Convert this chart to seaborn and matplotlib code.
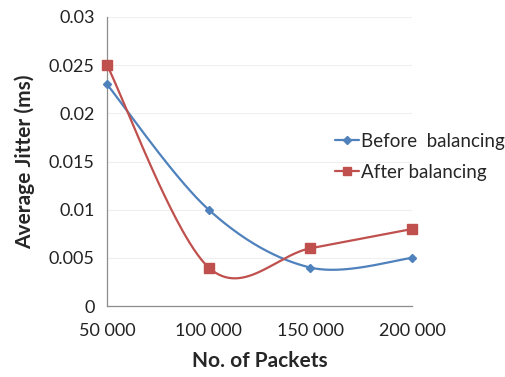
import numpy as np
import matplotlib
matplotlib.use("Agg")
import matplotlib.pyplot as plt
import seaborn as sns
from matplotlib.lines import Line2D

packets = [50000, 100000, 150000, 200000]
tick_labels = ["50 000", "100 000", "150 000", "200 000"]
before = [0.023, 0.010, 0.004, 0.005]
after = [0.025, 0.004, 0.006, 0.008]
series_names = ["Before  balancing", "After balancing"]

sns.set_theme(style="white")
plt.rcParams['font.family'] = ['Lato', 'DejaVu Sans']

BLUE = "#4F81BD"
RED = "#C0504D"


def smooth(xs, ys, n=60):
    # Excel-like Catmull-Rom Bezier smoothing for drawing the line
    xs = np.asarray(xs, float)
    ys = np.asarray(ys, float)
    P = np.column_stack([xs, ys])
    Pp = np.vstack([P[0], P, P[-1]])
    out = []
    for i in range(len(P) - 1):
        p0, p1, p2, p3 = Pp[i], Pp[i + 1], Pp[i + 2], Pp[i + 3]
        c1 = p1 + (p2 - p0) / 6.0
        c2 = p2 - (p3 - p1) / 6.0
        t = np.linspace(0, 1, n)[:, None]
        seg = ((1 - t) ** 3) * p1 + 3 * ((1 - t) ** 2) * t * c1 + 3 * (1 - t) * t ** 2 * c2 + t ** 3 * p2
        out.append(seg if i == 0 else seg[1:])
    seg = np.vstack(out)
    return seg[:, 0], seg[:, 1]


fig = plt.figure(figsize=(5.05, 3.77), dpi=100)
ax = fig.add_axes([0.212, 0.188, 0.604, 0.767])

for ys, col, mk, ms in [(before, BLUE, "D", 4.5), (after, RED, "s", 6.5)]:
    sx, sy = smooth(packets, ys)
    sns.lineplot(x=sx, y=sy, ax=ax, color=col, linewidth=1.6, sort=False, estimator=None)
    ax.plot(packets, ys, linestyle="none", marker=mk, markersize=ms, color=col, clip_on=False, zorder=5)

ax.set_xlim(50000, 200000)
ax.set_ylim(0, 0.03)
ax.set_xticks(packets)
ax.set_xticklabels(tick_labels, fontsize=13, color="#222222")
yt = [0, 0.005, 0.01, 0.015, 0.02, 0.025, 0.03]
ax.set_yticks(yt)
ax.set_yticklabels(["0", "0.005", "0.01", "0.015", "0.02", "0.025", "0.03"], fontsize=13, color="#222222")
ax.yaxis.grid(True, color="#EFEFEF", linewidth=0.8)
ax.xaxis.grid(False)
for s in ["top", "right"]:
    ax.spines[s].set_visible(False)
for s in ["left", "bottom"]:
    ax.spines[s].set_color("#8C8C8C")
    ax.spines[s].set_linewidth(0.9)
ax.tick_params(axis="both", which="both", direction="out", length=5, width=0.9, color="#8C8C8C")
ax.tick_params(axis="x", pad=7)
ax.tick_params(axis="y", pad=4)

ax.set_xlabel("No. of Packets", fontsize=15, fontweight="bold", labelpad=9)
ax.set_ylabel("Average Jitter (ms)", fontsize=15, fontweight="bold", labelpad=10)

handles = [Line2D([0], [0], color=BLUE, marker="D", markersize=4, linewidth=1.6),
           Line2D([0], [0], color=RED, marker="s", markersize=6, linewidth=1.6)]
fig.legend(handles, series_names, loc="upper left", bbox_to_anchor=(0.648, 0.668),
           frameon=False, fontsize=13.5, handlelength=1.3, handletextpad=0.12,
           labelspacing=0.75, borderaxespad=0)

fig.savefig("out.png", dpi=100)
